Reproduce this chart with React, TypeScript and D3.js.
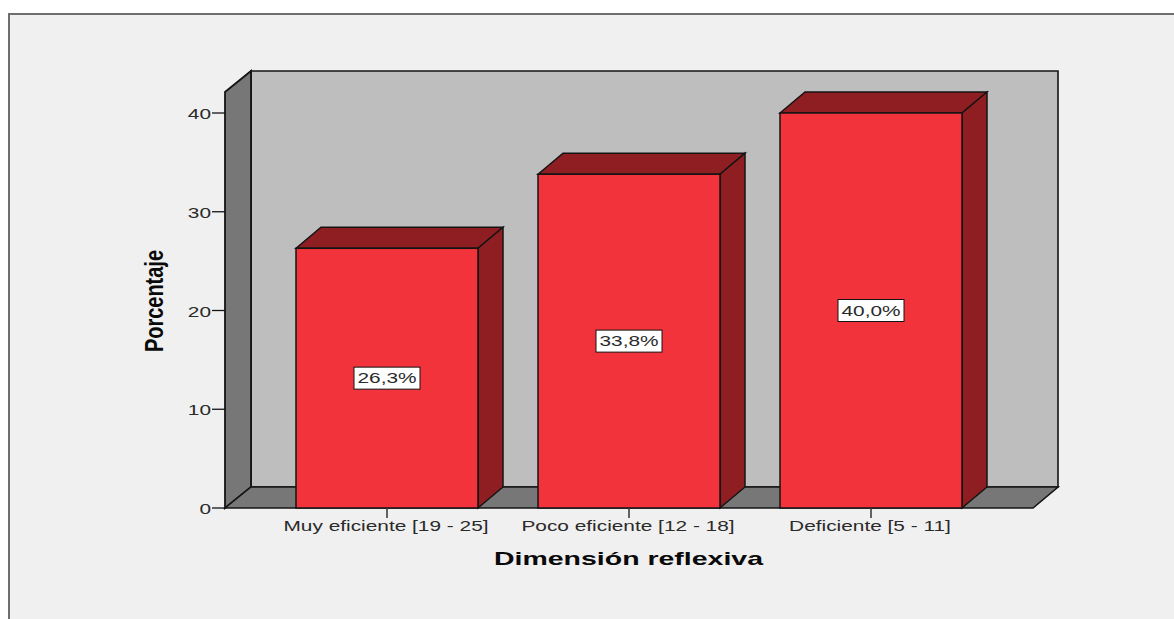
import React from "react";
import * as d3 from "d3";

const categories = ["Muy eficiente [19 - 25]", "Poco eficiente [12 - 18]", "Deficiente [5 - 11]"];
const percentages = [26.3, 33.8, 40.0];
const valueLabels = ["26,3%", "33,8%", "40,0%"];
const yTicks = [0, 10, 20, 30, 40];
const xTitle = "Dimensión reflexiva";
const yTitle = "Porcentaje";

const WIDTH = 1174;
const HEIGHT = 619;
const DEPTH_X = 25;
const DEPTH_Y = 21;
const INK = "#141414";
const FONT = "'Liberation Sans', Arial, sans-serif";
// Labels are set in a horizontally stretched sans
const STRETCH = 1.49;

const y = d3.scaleLinear().domain([0, 40]).range([508, 113]);
const x = d3.scaleBand<string>().domain(categories).range([266, 992]).paddingInner(0.248).paddingOuter(0.124);

const poly = (pts: [number, number][]) => {
  const line = d3.line();
  return line(pts) + "Z";
};

function Wide({ x: px, y: py, anchor, children }: { x: number; y: number; anchor: string; children: React.ReactNode }) {
  return (
    <text transform={`translate(${px},${py}) scale(${STRETCH},1)`} textAnchor={anchor} fontFamily={FONT} fontSize={14} fill="#2a2a2a">
      {children}
    </text>
  );
}

export default function App() {
  const floorY = y(0);
  const left = 225;
  const right = 1033;
  const wallTop = 92;
  return (
    <svg width={WIDTH} height={HEIGHT} style={{ position: "absolute", left: 0, top: 0, background: "#fff" }}>
      <rect x={9} y={14} width={WIDTH + 20} height={HEIGHT + 20} fill="#f0f0f0" stroke="#6e6e6e" strokeWidth={2} />

      {/* Chart box: back wall, side wall and floor */}
      <path d={poly([[left + DEPTH_X + 1, wallTop - DEPTH_Y], [right + DEPTH_X, wallTop - DEPTH_Y], [right + DEPTH_X, floorY - DEPTH_Y], [left + DEPTH_X + 1, floorY - DEPTH_Y]])} fill="#bebebe" stroke={INK} strokeWidth={1.6} />
      <path d={poly([[left, wallTop], [left + DEPTH_X + 1, wallTop - DEPTH_Y], [left + DEPTH_X + 1, floorY - DEPTH_Y], [left, floorY]])} fill="#777777" stroke={INK} strokeWidth={1.8} />
      <path d={poly([[left, floorY], [left + DEPTH_X + 1, floorY - DEPTH_Y], [right + DEPTH_X, floorY - DEPTH_Y], [right, floorY]])} fill="#777777" stroke={INK} strokeWidth={1.6} />

      {/* Value axis */}
      {yTicks.map((t) => (
        <g key={t}>
          <line x1={left - 13} x2={left} y1={y(t)} y2={y(t)} stroke={INK} strokeWidth={1.3} />
          <Wide x={left - 14} y={y(t) + 6} anchor="end">{t}</Wide>
        </g>
      ))}

      {/* Extruded bars */}
      {categories.map((c, i) => {
        const x0 = x(c) as number;
        const x1 = x0 + x.bandwidth();
        const top = y(percentages[i]);
        const mid = (x0 + x1) / 2;
        const labelY = (top + floorY) / 2;
        return (
          <g key={c}>
            <path d={poly([[x0, top], [x0 + DEPTH_X, top - DEPTH_Y], [x1 + DEPTH_X, top - DEPTH_Y], [x1, top]])} fill="#8e1e22" stroke={INK} strokeWidth={1.5} />
            <path d={poly([[x1, top], [x1 + DEPTH_X, top - DEPTH_Y], [x1 + DEPTH_X, floorY - DEPTH_Y], [x1, floorY]])} fill="#8e1e22" stroke={INK} strokeWidth={1.5} />
            <rect x={x0} y={top} width={x.bandwidth()} height={floorY - top} fill="#f2333b" stroke={INK} strokeWidth={1.5} />
            <rect x={mid - 33} y={labelY - 11} width={66} height={22} fill="#fff" stroke={INK} strokeWidth={1} />
            <Wide x={mid} y={labelY + 5} anchor="middle">{valueLabels[i]}</Wide>
            <line x1={mid} x2={mid} y1={floorY} y2={floorY + 10} stroke="#333" strokeWidth={1.5} />
            <Wide x={mid - 1} y={floorY + 23} anchor="middle">{c}</Wide>
          </g>
        );
      })}

      <text x={628.5} y={565} textAnchor="middle" fontFamily={FONT} fontSize={19} fontWeight="bold" fill="#0a0a0a" textLength={269} lengthAdjust="spacingAndGlyphs">{xTitle}</text>
      <text transform="translate(163,301) rotate(-90)" textAnchor="middle" fontFamily={FONT} fontSize={25} fontWeight="bold" fill="#0a0a0a" textLength={102} lengthAdjust="spacingAndGlyphs">{yTitle}</text>
    </svg>
  );
}
